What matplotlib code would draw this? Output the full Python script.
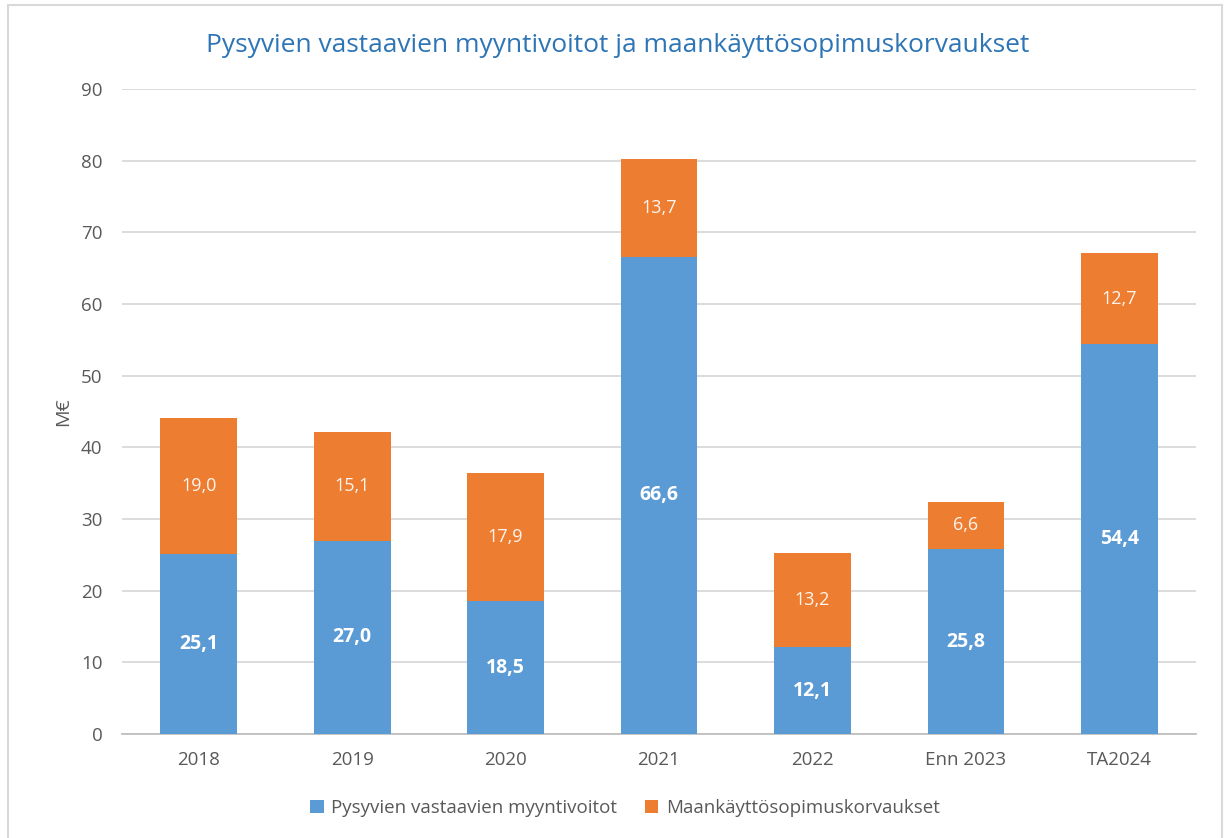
import matplotlib
matplotlib.use("Agg")
import matplotlib.pyplot as plt
from matplotlib.patches import Rectangle
import numpy as np

categories = ["2018", "2019", "2020", "2021", "2022", "Enn 2023", "TA2024"]
myyntivoitot = [25.1, 27.0, 18.5, 66.6, 12.1, 25.8, 54.4]
korvaukset = [19.0, 15.1, 17.9, 13.7, 13.2, 6.6, 12.7]
series_names = ["Pysyvien vastaavien myyntivoitot", "Maankäyttösopimuskorvaukset"]
title = "Pysyvien vastaavien myyntivoitot ja maankäyttösopimuskorvaukset"
yticks = [0, 10, 20, 30, 40, 50, 60, 70, 80, 90]

plt.rcParams['font.family'] = ['Open Sans', 'DejaVu Sans']

blue = "#5B9BD5"
orange = "#ED7D31"
gray_txt = "#595959"

fig = plt.figure(figsize=(12.3, 8.38), dpi=100)
fig.patches.append(Rectangle((8/1230, -0.01), 1214/1230, 1.01 - 5/838, transform=fig.transFigure,
                             fill=False, edgecolor="#D9D9D9", linewidth=1.5))
ax = fig.add_axes([122/1230, 104/838, 1074/1230, 645/838])

x = np.arange(len(categories))
b1 = ax.bar(x, myyntivoitot, width=0.5, color=blue, label=series_names[0], zorder=3)
b2 = ax.bar(x, korvaukset, width=0.5, bottom=myyntivoitot, color=orange, label=series_names[1], zorder=3)

for i in range(len(categories)):
    ax.text(x[i], myyntivoitot[i] / 2, f"{myyntivoitot[i]:.1f}".replace(".", ","),
            ha="center", va="center", color="white", fontsize=14, fontweight="bold", zorder=4)
    ax.text(x[i], myyntivoitot[i] + korvaukset[i] / 2, f"{korvaukset[i]:.1f}".replace(".", ","),
            ha="center", va="center", color="#FFF5EE", fontsize=13, zorder=4)

ax.set_xlim(-0.5, len(categories) - 0.5)
ax.set_ylim(0, 90)
ax.set_yticks(yticks)
ax.set_xticks(x)
ax.set_xticklabels(categories)
ax.yaxis.grid(True, color="#D9D9D9", linewidth=1.3, zorder=0)
ax.set_axisbelow(True)
for s in ["top", "right", "left"]:
    ax.spines[s].set_visible(False)
ax.spines["bottom"].set_color("#BFBFBF")
ax.spines["bottom"].set_linewidth(1.3)
ax.tick_params(axis="both", length=0, colors=gray_txt, labelsize=13.5)
ax.tick_params(axis="y", pad=14)
ax.tick_params(axis="x", pad=12)

ax.set_ylabel("M€", color=gray_txt, fontsize=14)
ax.yaxis.set_label_coords(-50/1074, 0.5)
fig.text(618/1230, 1 - 45/838, title, ha="center", va="center", color="#2E75B6", fontsize=19)

fig.legend(handles=[b1, b2], labels=series_names, loc="center", bbox_to_anchor=(625/1230, 1 - 808/838),
           ncol=2, frameon=False, fontsize=13.5, labelcolor=gray_txt, handlelength=0.7, handleheight=0.7,
           columnspacing=1.5, handletextpad=0.4)

fig.savefig("out.png", dpi=100)
